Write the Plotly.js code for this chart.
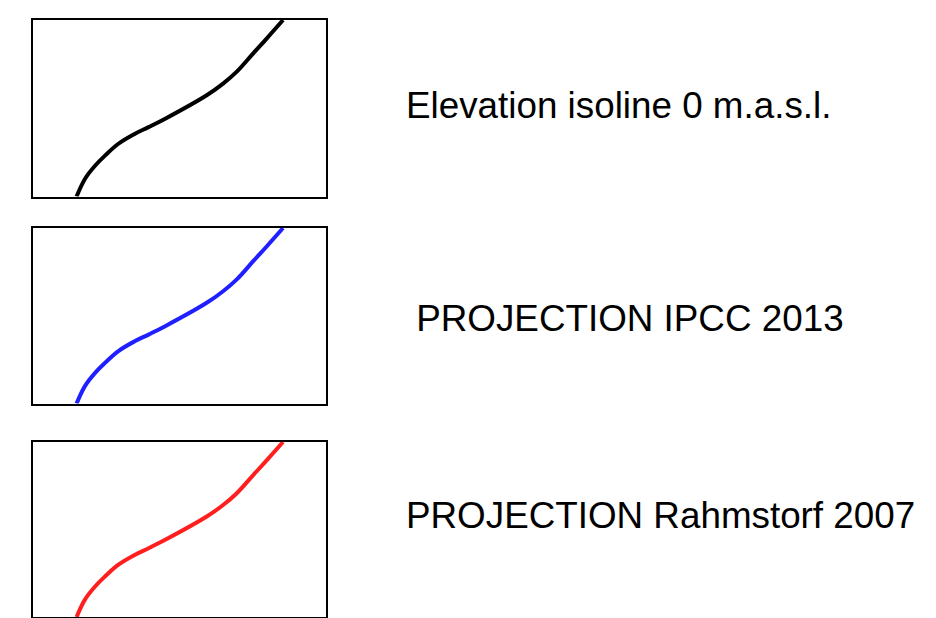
<!DOCTYPE html>
<html>
<head>
<meta charset="utf-8">
<script src="https://cdn.plot.ly/plotly-3.0.1.min.js"></script>
<style>html,body{margin:0;padding:0;background:#fff;}#chart{width:936px;height:618px;}</style>
</head>
<body>
<div id="chart"></div>
<script>
// Legend keys: normalized position of the isoline within each key box
const curveX = [0.148, 0.177, 0.212, 0.246, 0.291, 0.348, 0.394, 0.451, 0.593, 0.649, 0.695, 0.752, 0.798, 0.854];
const curveY = [0.000, 0.101, 0.176, 0.233, 0.299, 0.356, 0.393, 0.441, 0.574, 0.640, 0.706, 0.811, 0.895, 1.000];
const seriesNames = ["Elevation isoline 0 m.a.s.l.", " PROJECTION IPCC 2013", "PROJECTION Rahmstorf 2007"];
const seriesColors = ["#000000", "#1f1fff", "#ff1f1f"];

const yDomains = [[0.682, 0.9676], [0.347, 0.631], [0.0016, 0.2848]];
const labelY = [106, 318, 515];

const traces = [];
const layout = {
  width: 936, height: 618,
  margin: {l: 0, r: 0, t: 0, b: 0},
  paper_bgcolor: "#fff", plot_bgcolor: "#fff",
  showlegend: false,
  annotations: []
};
seriesNames.forEach((name, i) => {
  const n = i + 1;
  const xa = n === 1 ? "x" : "x" + n;
  const ya = n === 1 ? "y" : "y" + n;
  traces.push({
    x: curveX, y: curveY, xaxis: xa, yaxis: ya,
    type: "scatter", mode: "lines", name: name,
    line: {color: seriesColors[i], width: 4, shape: "spline", smoothing: 1.1},
    hoverinfo: "skip"
  });
  const axCommon = {range: [0, 1], showgrid: false, zeroline: false, showticklabels: false,
    ticks: "", showline: true, mirror: true, linecolor: "#000", linewidth: 2, fixedrange: true};
  layout[n === 1 ? "xaxis" : "xaxis" + n] = Object.assign({}, axCommon, {domain: [0.0356, 0.348], anchor: ya});
  layout[n === 1 ? "yaxis" : "yaxis" + n] = Object.assign({}, axCommon, {domain: yDomains[i], anchor: xa});
  layout.annotations.push({
    xref: "paper", yref: "paper",
    x: 404 / 936, y: 1 - labelY[i] / 618,
    xanchor: "left", yanchor: "middle",
    text: name.replace(/^ /, "&nbsp;"), showarrow: false,
    font: {family: "Liberation Sans, Arial, sans-serif", size: 36.8, color: "#000"}
  });
});
Plotly.newPlot("chart", traces, layout, {displayModeBar: false, staticPlot: true});
</script>
</body>
</html>
